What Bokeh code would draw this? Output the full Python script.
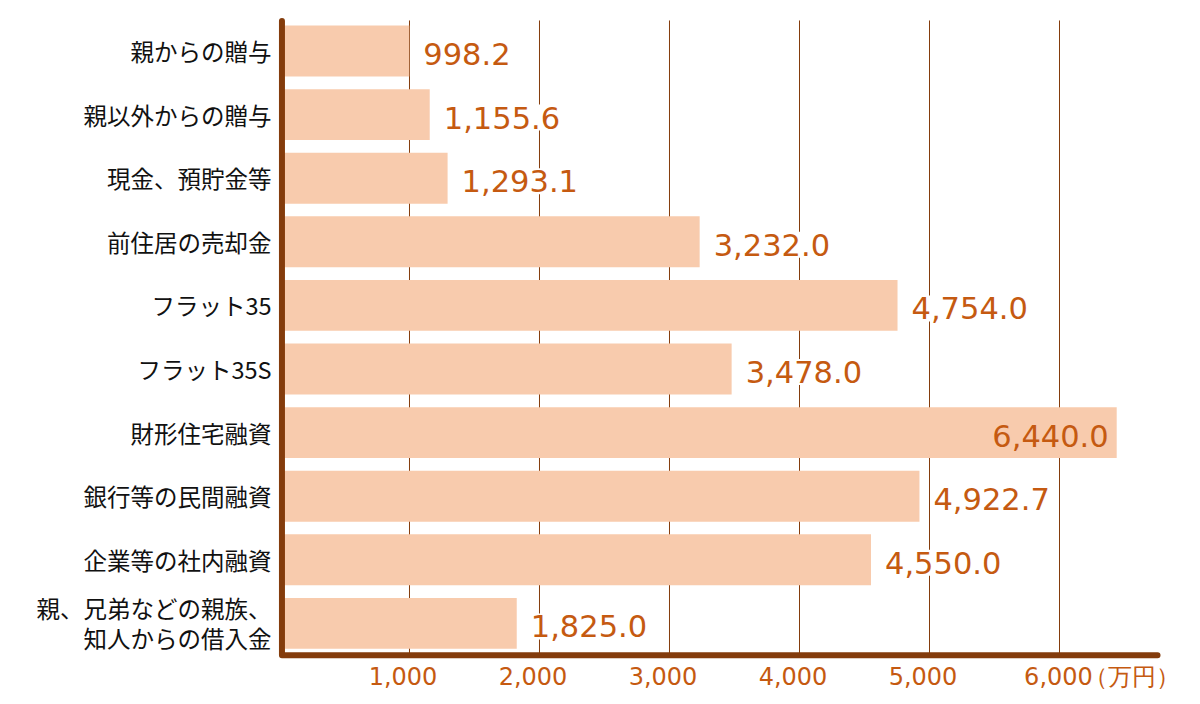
from bokeh.plotting import figure
from bokeh.models import Range1d, FixedTicker, ColumnDataSource
from bokeh.core.properties import value
from bokeh.embed import file_html
from bokeh.resources import INLINE

# ---- data ----
categories = ["親からの贈与", "親以外からの贈与", "現金、預貯金等", "前住居の売却金",
              "フラット35", "フラット35S", "財形住宅融資", "銀行等の民間融資",
              "企業等の社内融資", "親、兄弟などの親族、\n知人からの借入金"]
amounts = [998.2, 1155.6, 1293.1, 3232.0, 4754.0, 3478.0, 6440.0, 4922.7, 4550.0, 1825.0]
tick_values = [1000, 2000, 3000, 4000, 5000, 6000]
tick_labels = ["1,000", "2,000", "3,000", "4,000", "5,000", "6,000"]
unit_label = "（万円）"

# ---- style ----
BAR = "#F8CBAD"
AXIS = "#843C0C"
LABEL = "#C55A11"
X_MAX = 6823

idx = list(range(len(categories)))

p = figure(width=1196, height=702, output_backend="svg", toolbar_location=None,
           x_range=Range1d(-23, X_MAX), y_range=Range1d(9.615, -0.574),
           min_border_left=276, min_border_right=30, min_border_top=14, min_border_bottom=40)
p.outline_line_color = None
p.xgrid.visible = False
p.ygrid.visible = False
p.background_fill_color = "white"
p.border_fill_color = "white"

# grid lines (behind bars)
p.segment(x0=tick_values, x1=tick_values, y0=-0.48, y1=9.5, line_color=AXIS, line_width=1)

# bars
p.hbar(y=idx, left=0, right=amounts, height=0.8, fill_color=BAR, line_color=None)

# axis lines
ax_x = 19
p.line(x=[ax_x, ax_x, 6754], y=[-0.47, 9.5, 9.5], line_color=AXIS, line_width=6,
       line_cap="round", line_join="round")

# value labels
inside = [a > 6000 for a in amounts]
src = ColumnDataSource(dict(
    x=amounts, y=idx,
    text=[f"{a:,.1f}" for a in amounts],
    xo=[-6 if i else 12 for i in inside],
    align=["right" if i else "left" for i in inside],
    bg=[BAR if i else "white" for i in inside],
))
p.text(x="x", y="y", text="text", source=src, x_offset="xo", y_offset=3,
       text_align="align", text_baseline="middle",
       text_font=value("DejaVu Sans"), text_font_size="30.5px", text_color=LABEL,
       background_fill_color="bg", padding=2)

# y axis (categories)
p.yaxis.ticker = FixedTicker(ticks=idx)
p.yaxis.major_label_overrides = {i: c for i, c in zip(idx, categories)}
p.yaxis.axis_line_color = None
p.yaxis.major_tick_line_color = None
p.yaxis.minor_tick_line_color = None
p.yaxis.major_tick_out = 0
p.yaxis.major_tick_in = 0
p.yaxis.minor_tick_out = 0
p.yaxis.major_label_standoff = 5
p.yaxis.major_label_text_font = "Noto Sans CJK JP"
p.yaxis.major_label_text_font_size = "23.5px"
p.yaxis.major_label_text_color = "#111111"
p.yaxis.major_label_text_line_height = 0.88

# x axis (values), labels slightly left of grid lines, unit at the end
label_pos = [v - 50 for v in tick_values[:-1]] + [tick_values[-1] - 8, 6560]
p.xaxis.ticker = FixedTicker(ticks=label_pos)
p.xaxis.major_label_overrides = {pos: t for pos, t in zip(label_pos, tick_labels + [unit_label])}
p.xaxis.axis_line_color = None
p.xaxis.major_tick_line_color = None
p.xaxis.minor_tick_line_color = None
p.xaxis.major_tick_out = 0
p.xaxis.major_tick_in = 0
p.xaxis.minor_tick_out = 0
p.xaxis.major_label_standoff = 0
p.xaxis.major_label_text_font = "DejaVu Sans"
p.xaxis.major_label_text_font_size = "24px"
p.xaxis.major_label_text_color = LABEL

open("out.html", "w").write(file_html(p, INLINE))
